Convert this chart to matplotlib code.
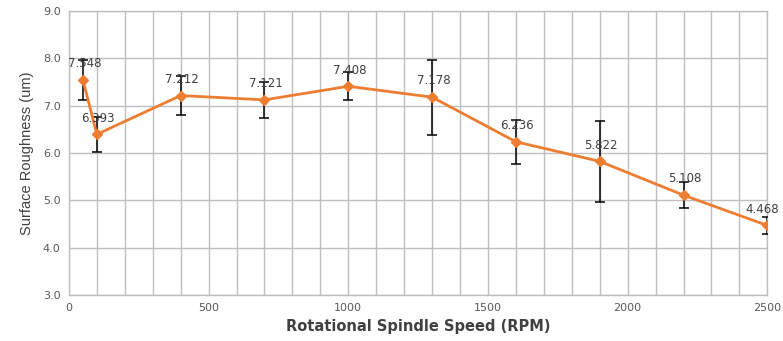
import matplotlib
matplotlib.use("Agg")
import matplotlib.pyplot as plt
from matplotlib.ticker import MultipleLocator

# spindle speed (RPM), mean surface roughness (um), error (+/-)
speed = [50, 100, 400, 700, 1000, 1300, 1600, 1900, 2200, 2500]
roughness = [7.548, 6.393, 7.212, 7.121, 7.408, 7.178, 6.236, 5.822, 5.108, 4.468]
err = [0.42, 0.37, 0.41, 0.38, 0.30, 0.79, 0.47, 0.85, 0.27, 0.18]
labels = ["7.548", "6.393", "7.212", "7.121", "7.408", "7.178", "6.236", "5.822", "5.108", "4.468"]

orange = "#ED7D31"
gridColor = "#BFBFBF"
tickColor = "#595959"

fig = plt.figure(figsize=(7.83, 3.41), dpi=100)
ax = fig.add_axes([0.088, 0.135, 0.892, 0.833])

ax.errorbar(speed, roughness, yerr=err, fmt="none", ecolor="black",
            elinewidth=1.1, capsize=3.5, capthick=1.1, zorder=3)
ax.plot(speed, roughness, color=orange, linewidth=2, marker="D",
        markersize=5, zorder=4)

for i, (x, y, t) in enumerate(zip(speed, roughness, labels)):
    dx = -4 if i == len(speed) - 1 else 1  # keep last label inside the figure
    ax.annotate(t, (x, y), xytext=(dx, 7), textcoords="offset points",
                ha="center", va="bottom", fontsize=8.5, color="#404040",
                family="DejaVu Sans", zorder=5, annotation_clip=False)

ax.set_xlim(0, 2500)
ax.set_ylim(3.0, 9.0)
ax.xaxis.set_major_locator(MultipleLocator(500))
ax.xaxis.set_minor_locator(MultipleLocator(100))
ax.yaxis.set_major_locator(MultipleLocator(1.0))
ax.yaxis.set_major_formatter(matplotlib.ticker.FormatStrFormatter("%.1f"))

ax.grid(which="both", axis="x", color=gridColor, linewidth=1)
ax.grid(which="major", axis="y", color=gridColor, linewidth=1)
ax.set_axisbelow(True)

for s in ax.spines.values():
    s.set_color(gridColor)
    s.set_linewidth(1)

ax.tick_params(which="both", length=0, labelsize=8, colors=tickColor, pad=6)

ax.set_xlabel("Rotational Spindle Speed (RPM)", fontsize=10.5, fontweight="bold",
              color="#404040", labelpad=4)
ax.set_ylabel("Surface Roughness (um)", fontsize=10.5, family="Liberation Sans",
              color="#404040", labelpad=6)

fig.savefig("out.png", dpi=100)
